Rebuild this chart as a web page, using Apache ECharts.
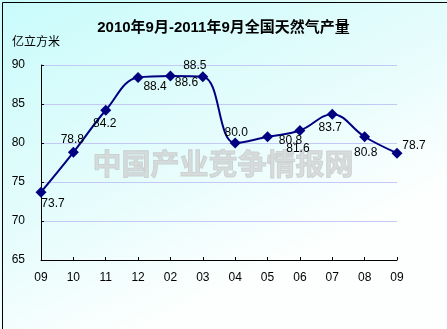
<!DOCTYPE html>
<html>
<head>
<meta charset="utf-8">
<script src="https://cdn.jsdelivr.net/npm/echarts@6/dist/echarts.min.js"></script>
<style>
  html, body { margin: 0; padding: 0; background: #fff; }
  #chart { width: 447px; height: 329px; }
</style>
</head>
<body>
<div id="chart"></div>
<script>
// Monthly natural gas output, Sept 2010 – Sept 2011 (100 million m³)
const months = ['09', '10', '11', '12', '02', '03', '04', '05', '06', '07', '08', '09'];
const output = [73.7, 78.8, 84.2, 88.4, 88.6, 88.5, 80.0, 80.8, 81.6, 83.7, 80.8, 78.7];
const yTicks = [65, 70, 75, 80, 85, 90];

// Where each value label sits relative to its point
const labelOffsets = [
  [12, 12], [-1, -13], [-1, 13], [17, 9], [16, 7], [-8, -11],
  [1, -10], [23, 4], [-2, 18], [-2, 14], [1, 16], [17, -7]
];

const FONT = '"Liberation Sans", Arial, "Noto Sans CJK SC", sans-serif';

const chart = echarts.init(document.getElementById('chart'), null, { renderer: 'canvas' });

chart.setOption({
  animation: false,
  backgroundColor: {
    type: 'linear', x: 0, y: 0, x2: 0.35, y2: 1,
    colorStops: [
      { offset: 0, color: '#c9fbfb' },
      { offset: 0.6, color: '#e6fcfc' },
      { offset: 1, color: '#fdfffe' }
    ]
  },
  title: {
    text: '2010年9月-2011年9月全国天然气产量',
    left: 'center',
    top: 15,
    textStyle: { fontFamily: FONT, fontSize: 15, fontWeight: 'bold', color: '#000' }
  },
  graphic: [
    {
      type: 'text', left: 12, top: 37, z: 5,
      style: { text: '亿立方米', font: '12px ' + FONT, fill: '#000' }
    },
    {
      type: 'text', x: 223, y: 164, z: 1, silent: true,
      style: {
        text: '中国产业竞争情报网',
        font: 'bold 29px "Noto Sans CJK SC", sans-serif',
        fill: 'rgba(205,205,205,0.7)',
        stroke: 'rgba(180,180,180,0.55)',
        lineWidth: 1,
        align: 'center',
        verticalAlign: 'middle',
        letterSpacing: 4
      }
    },
    {
      type: 'rect', left: 0, top: 0, z: 100, silent: true,
      shape: { x: 0.5, y: 0.5, width: 446, height: 328 },
      style: { fill: 'none', stroke: '#000', lineWidth: 1 }
    }
  ],
  grid: { left: 41, right: 50, top: 65, bottom: 69, containLabel: false },
  xAxis: {
    type: 'category',
    data: months,
    boundaryGap: false,
    axisLine: { lineStyle: { color: '#000', width: 1 } },
    axisTick: { inside: true, length: 3, lineStyle: { color: '#000' } },
    axisLabel: { color: '#000', fontFamily: FONT, fontSize: 12, margin: 12 },
    splitLine: { show: false }
  },
  yAxis: {
    type: 'value',
    min: yTicks[0],
    max: yTicks[yTicks.length - 1],
    interval: 5,
    axisLine: { show: true, lineStyle: { color: '#000', width: 1 } },
    axisTick: { show: true, inside: true, length: 3, lineStyle: { color: '#000' } },
    axisLabel: { color: '#000', fontFamily: FONT, fontSize: 12, margin: 16 },
    splitLine: { show: true, lineStyle: { color: '#c4c8f4', width: 1 } }
  },
  series: [{
    type: 'line',
    data: output.map((v, i) => ({
      value: v,
      label: { offset: labelOffsets[i] }
    })),
    smooth: 0.4,
    z: 10,
    lineStyle: { color: '#000080', width: 2 },
    itemStyle: { color: '#000080' },
    symbol: 'diamond',
    symbolSize: 11,
    label: {
      show: true,
      position: 'inside',
      color: '#000',
      fontFamily: FONT,
      fontSize: 12,
      formatter: p => p.value.toFixed(1)
    }
  }]
});
</script>
</body>
</html>
